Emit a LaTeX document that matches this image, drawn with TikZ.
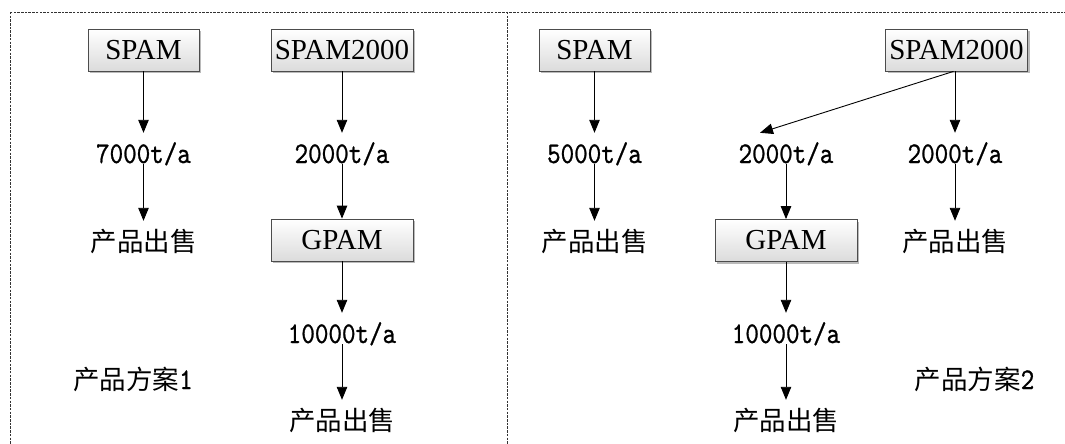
\documentclass[tikz,border=0pt]{standalone}
\usepackage{fontspec}
\setmainfont{Liberation Serif}
\newfontfamily\cjk{Noto Sans CJK SC}
\newfontfamily\numfont{lmmono10-regular.otf}[FakeStretch=0.86,FakeBold=0.8]
\usetikzlibrary{arrows.meta,shadows}

\tikzset{
  frame/.style={draw=black!80, line width=0.8pt, dash pattern=on 2.5pt off 1.2pt},
  unit/.style={draw=black!70, line width=0.8pt, top color=white, bottom color=black!14,
    minimum height=42pt, inner sep=0pt, font=\fontsize{29}{30}\selectfont,
    drop shadow={shadow xshift=2pt, shadow yshift=-2pt, fill=black!45, opacity=0.6}},
  narrowunit/.style={unit, minimum width=111pt},
  wideunit/.style={unit, minimum width=142pt},
  rate/.style={anchor=base, inner sep=0pt, text height=30pt, text depth=1pt,
    font=\numfont\fontsize{30}{32}\selectfont},
  sale/.style={anchor=base, inner sep=0pt, text height=30pt, text depth=1pt,
    font=\cjk\fontsize{26.5}{28}\selectfont},
  flow/.style={draw=black, line width=0.9pt, -{Triangle[length=13pt,width=10.5pt]}},
}

\begin{document}
\begin{tikzpicture}[x=1pt, y=-1pt]
\useasboundingbox (0,0) rectangle (1065,444);
\clip (0,0) rectangle (1065,444);

% outer frame and the line between the two schemes
\draw[frame] (10,12) rectangle (1085,470);
\draw[frame] (507,12) -- (507,470);

% ---- scheme 1 ----
\node[narrowunit] (spamA) at (143.5,50) {SPAM};
\node[wideunit]   (spam2A) at (342,50) {SPAM2000};
\node[rate] (r7000) at (143.5,163) {7000t/a};
\node[rate] (r2000A) at (342,163) {2000t/a};
\node[sale] (saleA1) at (143.5,251) {产品出售};
\node[wideunit] (gpamA) at (342,240) {GPAM};
\node[rate] (r10kA) at (342,343) {10000t/a};
\node[sale] (saleA2) at (342,430) {产品出售};
\node[sale, text height=22pt] (planA) at (133,389) {产品方案{\numfont\fontsize{30}{32}\selectfont 1}};

\draw[flow] (spamA.south) -- (r7000.north);
\draw[flow] (r7000.south) -- (saleA1.north);
\draw[flow] (spam2A.south) -- (r2000A.north);
\draw[flow] (r2000A.south) -- (gpamA.north);
\draw[flow] (gpamA.south) -- (r10kA.north);
\draw[flow] (r10kA.south) -- (saleA2.north);

% ---- scheme 2 ----
\node[narrowunit] (spamB) at (594.5,50) {SPAM};
\node[wideunit]   (spam2B) at (956.5,50) {SPAM2000};
\node[rate] (r5000) at (594.5,163) {5000t/a};
\node[rate] (r2000B) at (786,163) {2000t/a};
\node[rate] (r2000C) at (955,163) {2000t/a};
\node[sale] (saleB1) at (594.5,251) {产品出售};
\node[wideunit] (gpamB) at (786,240.5) {GPAM};
\node[sale] (saleC1) at (955,251) {产品出售};
\node[rate] (r10kB) at (786,343) {10000t/a};
\node[sale] (saleB2) at (786,430) {产品出售};
\node[sale, text height=22pt] (planB) at (974.5,389) {产品方案{\numfont\fontsize{30}{32}\selectfont 2}};

\draw[flow] (spamB.south) -- (r5000.north);
\draw[flow] (r5000.south) -- (saleB1.north);
\draw[flow] ([xshift=-3pt]spam2B.south) -- ([xshift=-26pt]r2000B.north);
\draw[flow] ([xshift=-1.5pt]spam2B.south) -- (r2000C.north);
\draw[flow] (r2000C.south) -- (saleC1.north);
\draw[flow] (r2000B.south) -- (gpamB.north);
\draw[flow] (gpamB.south) -- (r10kB.north);
\draw[flow] (r10kB.south) -- (saleB2.north);
\end{tikzpicture}
\end{document}
